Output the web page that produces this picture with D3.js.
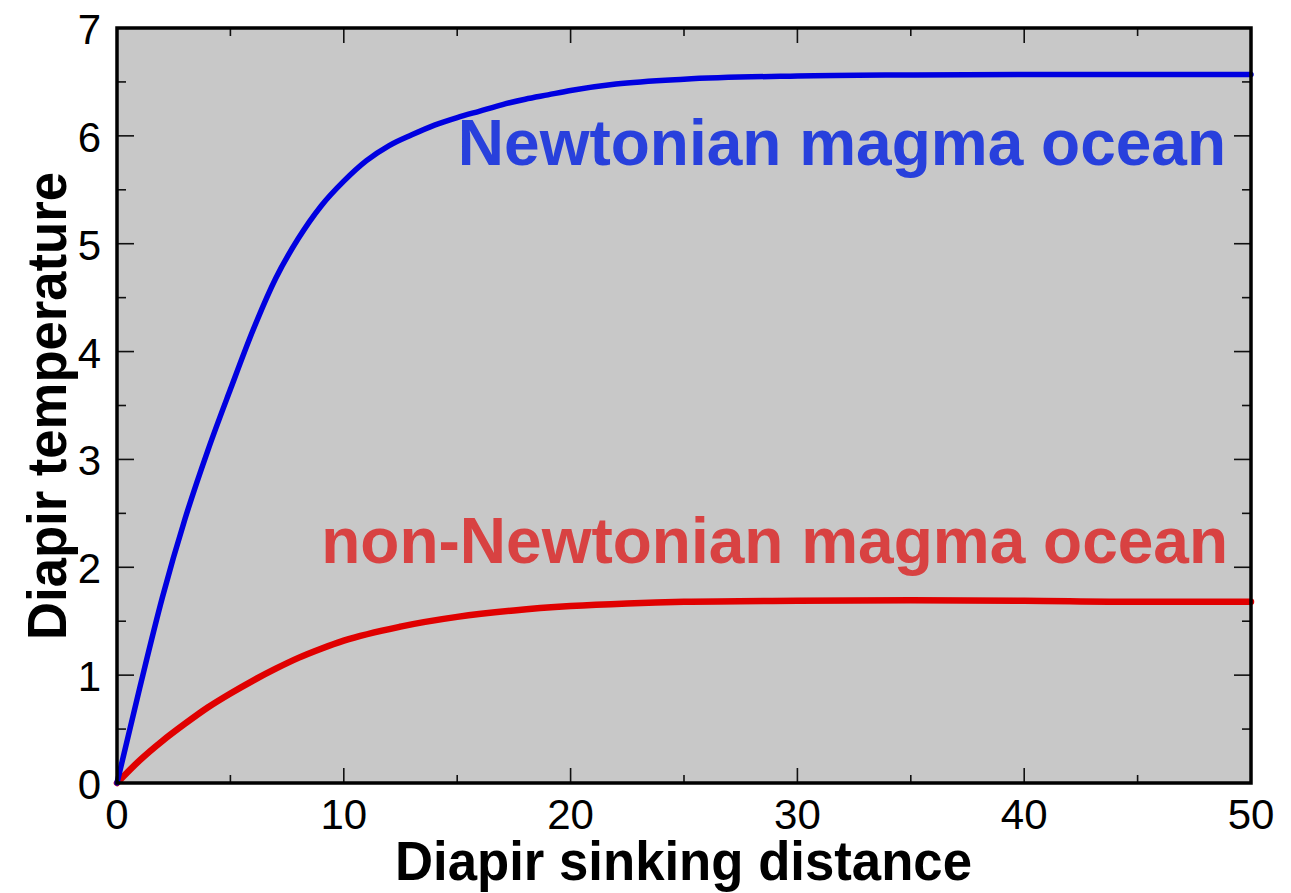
<!DOCTYPE html>
<html>
<head>
<meta charset="utf-8">
<script src="https://cdn.jsdelivr.net/npm/d3@7"></script>
<style>
  html, body { margin: 0; padding: 0; background: #fff; }
  svg { display: block; }
  text { font-family: "Liberation Sans", Arial, Helvetica, sans-serif; }
</style>
</head>
<body>
<svg id="chart" width="1291" height="893"></svg>
<script>
// Sinking distance samples and diapir temperature for the two magma ocean rheologies
const newtonianDistance = [0, 1, 2, 3, 4, 5, 6, 7, 8, 9, 10, 11, 12, 13, 14, 15, 16, 17, 18, 19, 20, 22, 25, 30, 35, 40, 45, 50];
const newtonianTemp     = [0, 0.88, 1.72, 2.45, 3.08, 3.65, 4.2, 4.68, 5.05, 5.35, 5.58, 5.77, 5.91, 6.01, 6.1, 6.17, 6.23, 6.29, 6.34, 6.38, 6.42, 6.48, 6.525, 6.555, 6.565, 6.57, 6.57, 6.57];

const nonNewtonianDistance = [0, 1, 2, 3, 4, 5, 6, 7, 8, 9, 10, 12.5, 15, 17.5, 20, 22.5, 25, 30, 35, 40, 45, 50];
const nonNewtonianTemp     = [0, 0.21, 0.39, 0.55, 0.7, 0.83, 0.95, 1.06, 1.16, 1.245, 1.32, 1.45, 1.54, 1.6, 1.64, 1.665, 1.68, 1.69, 1.695, 1.69, 1.68, 1.68];

const xTicks = [0, 10, 20, 30, 40, 50];
const yTicks = [0, 1, 2, 3, 4, 5, 6, 7];
const xMinorTicks = [5, 15, 25, 35, 45];
const yMinorTicks = [0.5, 1.5, 2.5, 3.5, 4.5, 5.5, 6.5];

const seriesLabels = ["Newtonian magma ocean", "non-Newtonian magma ocean"];
const xTitle = "Diapir sinking distance";
const yTitle = "Diapir temperature";

const svg = d3.select("#chart");
const plotLeft = 117, plotRight = 1251, plotTop = 28, plotBottom = 783;

const x = d3.scaleLinear().domain([0, 50]).range([plotLeft, plotRight]);
const y = d3.scaleLinear().domain([0, 7]).range([plotBottom, plotTop]);

// plot background
svg.append("rect")
  .attr("x", plotLeft).attr("y", plotTop)
  .attr("width", plotRight - plotLeft).attr("height", plotBottom - plotTop)
  .attr("fill", "#c8c8c8");

// inward ticks on all four sides
const tickG = svg.append("g").attr("stroke", "#111").attr("stroke-width", 1.6);
const majLen = 15, minLen = 8;
function xTickMarks(vals, len) {
  vals.forEach(v => {
    tickG.append("line").attr("x1", x(v)).attr("x2", x(v)).attr("y1", plotBottom).attr("y2", plotBottom - len);
    tickG.append("line").attr("x1", x(v)).attr("x2", x(v)).attr("y1", plotTop).attr("y2", plotTop + len);
  });
}
function yTickMarks(vals, len) {
  vals.forEach(v => {
    tickG.append("line").attr("y1", y(v)).attr("y2", y(v)).attr("x1", plotLeft).attr("x2", plotLeft + len);
    tickG.append("line").attr("y1", y(v)).attr("y2", y(v)).attr("x1", plotRight).attr("x2", plotRight - len);
  });
}
xTickMarks(xTicks, majLen);
xTickMarks(xMinorTicks, minLen);
yTickMarks(yTicks, majLen + 2);
yTickMarks(yMinorTicks, minLen + 1);

// curves
const line = d3.line().x(d => x(d[0])).y(d => y(d[1])).curve(d3.curveMonotoneX);
svg.append("path")
  .datum(d3.zip(nonNewtonianDistance, nonNewtonianTemp))
  .attr("d", line)
  .attr("fill", "none").attr("stroke", "#e00000").attr("stroke-width", 6.5)
  .attr("stroke-linecap", "round");
svg.append("path")
  .datum(d3.zip(newtonianDistance, newtonianTemp))
  .attr("d", line)
  .attr("fill", "none").attr("stroke", "#0000e0").attr("stroke-width", 5.5)
  .attr("stroke-linecap", "round");

// frame
svg.append("rect")
  .attr("x", plotLeft).attr("y", plotTop)
  .attr("width", plotRight - plotLeft).attr("height", plotBottom - plotTop)
  .attr("fill", "none").attr("stroke", "#000").attr("stroke-width", 3.5);

// tick labels
svg.append("g").selectAll("text").data(xTicks).join("text")
  .attr("x", d => x(d)).attr("y", 829)
  .attr("text-anchor", "middle")
  .attr("font-size", 42)
  .text(d => d);
svg.append("g").selectAll("text").data(yTicks).join("text")
  .attr("x", 101).attr("y", d => y(d) + 16)
  .attr("text-anchor", "end")
  .attr("font-size", 42)
  .text(d => d);

// axis titles
svg.append("text")
  .attr("x", 395).attr("y", 880)
  .attr("font-size", 56).attr("font-weight", "bold")
  .attr("textLength", 577).attr("lengthAdjust", "spacingAndGlyphs")
  .text(xTitle);
svg.append("text")
  .attr("transform", "translate(66, 640) rotate(-90)")
  .attr("font-size", 56).attr("font-weight", "bold")
  .attr("textLength", 468).attr("lengthAdjust", "spacingAndGlyphs")
  .text(yTitle);

// series labels
svg.append("text")
  .attr("x", 1226).attr("y", 165)
  .attr("text-anchor", "end")
  .attr("font-size", 64).attr("font-weight", "bold")
  .attr("fill", "#2840dc")
  .text(seriesLabels[0]);
svg.append("text")
  .attr("x", 1228).attr("y", 563)
  .attr("text-anchor", "end")
  .attr("font-size", 64).attr("font-weight", "bold")
  .attr("fill", "#d84242")
  .text(seriesLabels[1]);
</script>
</body>
</html>
